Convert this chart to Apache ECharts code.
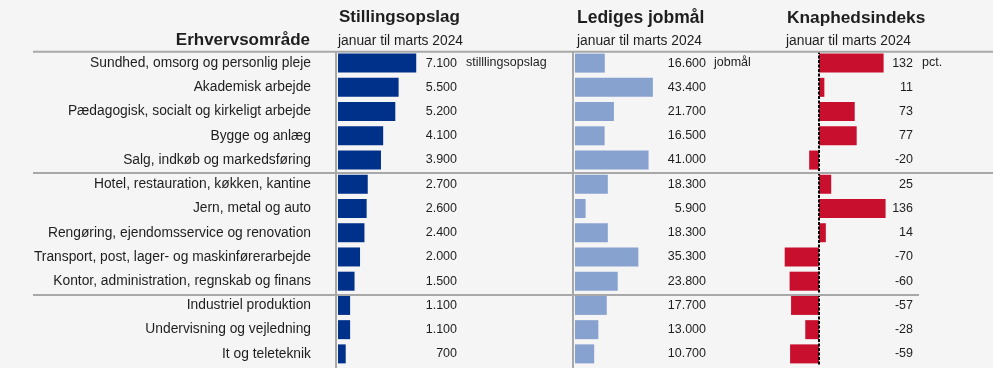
<!DOCTYPE html>
<html>
<head>
<meta charset="utf-8">
<script src="https://cdn.jsdelivr.net/npm/echarts@6/dist/echarts.min.js"></script>
<style>
  html, body { margin: 0; padding: 0; background: #f5f5f5; }
  #chart { width: 993px; height: 368px; }
</style>
</head>
<body>
<div id="chart"></div>
<script>
// Erhvervsområder, sorteret efter antal stillingsopslag
const categories = [
  'Sundhed, omsorg og personlig pleje',
  'Akademisk arbejde',
  'Pædagogisk, socialt og kirkeligt arbejde',
  'Bygge og anlæg',
  'Salg, indkøb og markedsføring',
  'Hotel, restauration, køkken, kantine',
  'Jern, metal og auto',
  'Rengøring, ejendomsservice og renovation',
  'Transport, post, lager- og maskinførerarbejde',
  'Kontor, administration, regnskab og finans',
  'Industriel produktion',
  'Undervisning og vejledning',
  'It og teleteknik'
];
const stillingsopslag = [7100, 5500, 5200, 4100, 3900, 2700, 2600, 2400, 2000, 1500, 1100, 1100, 700];
const jobmaal = [16600, 43400, 21700, 16500, 41000, 18300, 5900, 18300, 35300, 23800, 17700, 13000, 10700];
const knaphed = [132, 11, 73, 77, -20, 25, 136, 14, -70, -60, -57, -28, -59];

const periode = 'januar til marts 2024';
const FONT = '"Liberation Sans", Arial, sans-serif';
const TXT = '#1e1e1e';
const LINE = '#a8a8a8';

// Dansk tusindtalsseparator
const fmt = v => String(v).replace(/\B(?=(\d{3})+(?!\d))/g, '.');

const chart = echarts.init(document.getElementById('chart'), null, { renderer: 'canvas' });

const gridTop = 51, gridH = 315;
const grids = [
  { left: 338, top: gridTop, width: 119, height: gridH },
  { left: 575, top: gridTop, width: 131, height: gridH },
  { left: 770, top: gridTop, width: 143, height: gridH }
];
const ranges = [[0, 10800], [0, 73000], [-100, 192]];
const values = [stillingsopslag, jobmaal, knaphed];
const colors = ['#00318a', '#88a2d0', '#c8102e'];

const xAxes = ranges.map((r, i) => ({
  type: 'value', gridIndex: i, min: r[0], max: r[1],
  show: false
}));

const yAxes = [];
values.forEach((vals, i) => {
  // kategoriakse (navne vises kun i første panel)
  yAxes.push({
    type: 'category', gridIndex: i, data: categories, inverse: true,
    axisLine: { show: false }, axisTick: { show: false }, splitLine: { show: false },
    axisLabel: i === 0
      ? { show: true, margin: 27, fontFamily: FONT, fontSize: 13.8, color: TXT }
      : { show: false }
  });
  // højre akse med talværdier
  yAxes.push({
    type: 'category', gridIndex: i, data: categories, inverse: true, position: 'right',
    axisLine: { show: false }, axisTick: { show: false }, splitLine: { show: false },
    axisLabel: {
      inside: true, margin: 0, fontFamily: FONT, fontSize: 12.5, color: TXT,
      formatter: (v, idx) => fmt(vals[idx])
    }
  });
});

const series = values.map((vals, i) => {
  const s = {
    type: 'bar', xAxisIndex: i, yAxisIndex: i * 2, data: vals,
    barWidth: 19, itemStyle: { color: colors[i] }, silent: true
  };
  if (i === 2) {
    s.markLine = {
      silent: true, symbol: 'none', label: { show: false },
      lineStyle: { color: '#000', width: 2, type: [3, 1.5] },
      data: [{ xAxis: 0 }]
    };
  }
  return s;
});

const hdr = (x, y, text, size, bold, align) => ({
  type: 'text', x, y,
  style: {
    text, fill: TXT, font: `${bold ? 'bold ' : ''}${size}px ${FONT}`,
    textAlign: align || 'left', textVerticalAlign: 'middle'
  }
});
const hline = (x1, x2, y) => ({
  type: 'line', shape: { x1, y1: y, x2, y2: y },
  style: { stroke: LINE, lineWidth: 2 }, z: 10
});
const vline = (x, y1, y2) => ({
  type: 'line', shape: { x1: x, y1, x2: x, y2 },
  style: { stroke: LINE, lineWidth: 2 }, z: 10
});

chart.setOption({
  backgroundColor: '#f5f5f5',
  animation: false,
  grid: grids,
  xAxis: xAxes,
  yAxis: yAxes,
  series,
  graphic: [
    hdr(310, 40, 'Erhvervsområde', 17, true, 'right'),
    hdr(339, 17, 'Stillingsopslag', 17, true),
    hdr(338, 41, periode, 13.8, false),
    hdr(577, 18, 'Lediges jobmål', 17.5, true),
    hdr(577, 41, periode, 13.8, false),
    hdr(787, 18, 'Knaphedsindeks', 17.3, true),
    hdr(786, 41, periode, 13.8, false),
    hdr(466, 63, 'stilllingsopslag', 12.5, false),
    hdr(714, 63, 'jobmål', 12.5, false),
    hdr(922, 63, 'pct.', 12.5, false),
    hline(33, 993, 51.7),
    hline(33, 993, 173),
    hline(33, 919, 295),
    vline(336, 51, 368),
    vline(573, 51, 368)
  ]
});
</script>
</body>
</html>
